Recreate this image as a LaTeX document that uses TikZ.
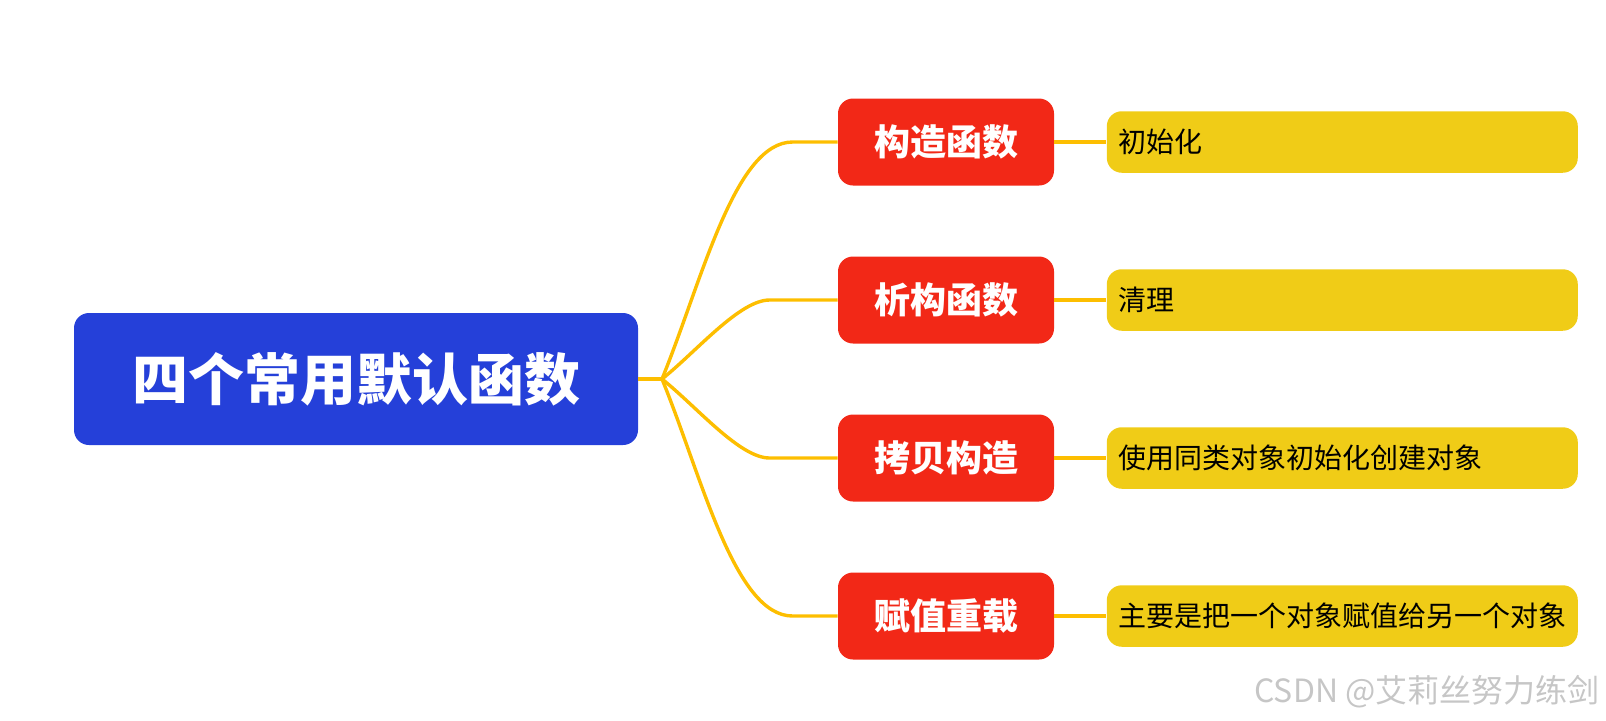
\documentclass[tikz,border=0pt]{standalone}
\usepackage{fontspec}
\setmainfont{Noto Sans CJK SC}[BoldFont={Noto Sans CJK SC Black}]
\usepackage{xcolor}
\usetikzlibrary{positioning, calc}
\definecolor{rootblue}{HTML}{2540D9}
\definecolor{funcred}{HTML}{F22817}
\definecolor{descyellow}{HTML}{F0CC17}
\definecolor{linegold}{HTML}{FDBE00}
\tikzset{
  rootblock/.style={fill=rootblue, rounded corners=7.5pt, align=center, minimum width=282pt, minimum height=66pt, text=white, font=\fontsize{28}{34}\selectfont\bfseries},
  funcblock/.style={fill=funcred, rounded corners=7.5pt, align=center, minimum width=108pt, minimum height=43.5pt, text=white, font=\fontsize{18}{22}\selectfont\bfseries},
  descblock/.style={fill=descyellow, rounded corners=7.5pt, align=left, text width=223.5pt, inner xsep=6pt, minimum height=30.75pt, font=\fontsize{14}{17}\selectfont},
  branch/.style={draw=linegold, line width=1.7pt},
  note/.style={text=gray!45, inner sep=0pt, font=\fontsize{16}{19}\selectfont}
}

\begin{document}
\begin{tikzpicture}[x=0.5pt, y=-0.5pt]
    \useasboundingbox (0,0) rectangle (1606,720);
    \node[rootblock] (root) at (356,379) {四个常用默认函数};
    \coordinate (hub) at (662,379);
    \node[funcblock] (ctor) at (946,142) {构造函数};
    \node[funcblock] (dtor) at (946,300) {析构函数};
    \node[funcblock] (copy) at (946,458) {拷贝构造};
    \node[funcblock] (assign) at (946,616) {赋值重载};
    \node[descblock, right=26pt of ctor] (ctordesc) {初始化};
    \node[descblock, right=26pt of dtor] (dtordesc) {清理};
    \node[descblock, right=26pt of copy] (copydesc) {使用同类对象初始化创建对象};
    \node[descblock, right=26pt of assign] (assigndesc) {主要是把一个对象赋值给另一个对象};
    \node[note, anchor=east] (wm) at (1600,692) {CSDN @艾莉丝努力练剑};

    \draw[branch] (root) -- (hub);
    \draw[branch] (hub) .. controls +(40,-98) and +(-58,0) .. ($(ctor.west)+(-45,0)$) -- (ctor);
    \draw[branch] (hub) .. controls +(35,-28) and +(-30,0) .. ($(dtor.west)+(-68,0)$) -- (dtor);
    \draw[branch] (hub) .. controls +(35,28) and +(-30,0) .. ($(copy.west)+(-68,0)$) -- (copy);
    \draw[branch] (hub) .. controls +(40,98) and +(-58,0) .. ($(assign.west)+(-45,0)$) -- (assign);
    \draw[branch] (ctor) -- (ctordesc);
    \draw[branch] (dtor) -- (dtordesc);
    \draw[branch] (copy) -- (copydesc);
    \draw[branch] (assign) -- (assigndesc);
\end{tikzpicture}
\end{document}
